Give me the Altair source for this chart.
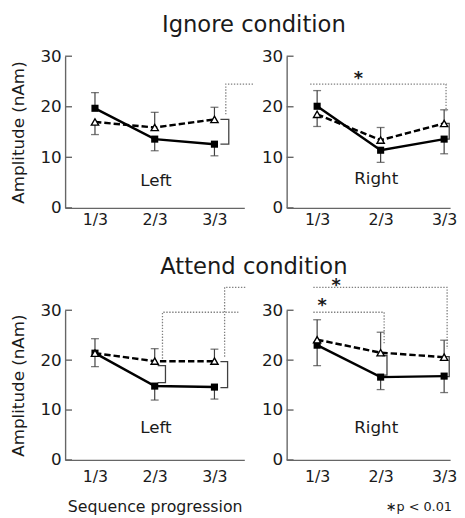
import json
import altair as alt
import pandas as pd

FONT = "DejaVu Sans"
INK = "#1a1a1a"
AXIS = "#666666"
ERR = "#404040"
DOT = "#808080"

x_ticks = [1, 2, 3]
x_labels = ["1/3", "2/3", "3/3"]
y_ticks = [0, 10, 20, 30]

# Ignore condition, Left
il_sq = [19.7, 13.6, 12.6]
il_sq_err = [22.8, 11.3, 10.3]
il_tri = [17.0, 15.9, 17.5]
il_tri_err = [14.5, 18.9, 19.9]
# Ignore condition, Right
ir_sq = [20.1, 11.4, 13.6]
ir_sq_err = [23.2, 9.0, 10.7]
ir_tri = [18.5, 13.4, 16.7]
ir_tri_err = [16.1, 15.9, 19.4]
# Attend condition, Left
al_sq = [21.4, 14.8, 14.6]
al_sq_err = [18.7, 12.0, 12.2]
al_tri = [21.4, 19.8, 19.8]
al_tri_err = [24.3, 22.3, 22.2]
# Attend condition, Right
ar_sq = [23.0, 16.6, 16.8]
ar_sq_err = [18.9, 14.1, 13.5]
ar_tri = [24.1, 21.5, 20.6]
ar_tri_err = [28.1, 25.6, 24.0]

# brackets: (x_from, x_at, y_top, y_bottom)
il_brackets = [(3.10, 3.24, 17.5, 12.6)]
ir_brackets = [(3.03, 3.08, 16.7, 13.6)]
al_brackets = [(2.05, 2.18, 18.9, 15.5), (3.10, 3.22, 19.7, 14.5)]
ar_brackets = [(2.02, 2.10, 20.9, 17.0), (3.03, 3.08, 20.7, 16.7)]

# dotted significance paths: (x values, y values)
il_dotted = [([3.19, 3.19, 3.665], [18.5, 24.5, 24.5])]
ir_dotted = [([0.89, 3.03, 3.03], [24.5, 24.5, 19.1])]
al_dotted = [([2.13, 2.13, 3.40], [20.3, 29.6, 29.6]),
             ([3.17, 3.17, 3.52], [20.7, 34.6, 34.6])]
ar_dotted = [([0.94, 2.055, 2.055], [29.6, 29.6, 23.1]),
             ([0.94, 3.047, 3.047], [34.6, 34.6, 22.3])]

ir_stars = ([1.65], [26.3])
ar_stars = ([1.08, 1.30], [31.6, 35.6])
no_stars = ([], [])

# free-standing texts: (text, x, y) in their panel's data space
ignore_heading = ("Ignore condition", 3.66, 34.7)
attend_heading = ("Attend condition", 3.66, 37.3)
p_note = ("∗p < 0.01", 2.08, -10.2)

label_expr = "%s[datum.value - 1]" % json.dumps(x_labels)


def make_panel(sq, sq_err, tri, tri_err, brackets, dotted, stars, label, label_x, label_y,
               xdomain, width, height, xlabel_pad, ytitle=None, xtitle=None, heading=None,
               note=None):
    xscale = alt.Scale(domain=xdomain, nice=False, zero=False)
    yscale = alt.Scale(domain=[0, 30], nice=False, zero=False)
    xkw = dict(values=x_ticks, labelExpr=label_expr, ticks=False, tickSize=0, grid=False,
               labelPadding=xlabel_pad, labelFontSize=16)
    if xtitle:
        xkw.update(title=xtitle, titleFontSize=16, titlePadding=14)
    else:
        xkw["title"] = None
    xaxis = alt.Axis(**xkw)
    ykw = dict(values=y_ticks, ticks=False, tickSize=0, grid=False, labelPadding=4,
               labelFontSize=17)
    if ytitle:
        ykw.update(title=ytitle, titleFontSize=17, titlePadding=13)
    else:
        ykw["title"] = None
    yaxis = alt.Axis(**ykw)

    def X(f):
        return alt.X(f"{f}:Q", scale=xscale, axis=xaxis)

    def Y(f):
        return alt.Y(f"{f}:Q", scale=yscale, axis=yaxis)

    sq_df = pd.DataFrame({"x": x_ticks, "y": sq, "err": sq_err})
    tri_df = pd.DataFrame({"x": x_ticks, "y": tri, "err": tri_err})
    tick_df = pd.DataFrame({"y": y_ticks})

    br_rows = []
    for i, (xf, xa, yt, yb) in enumerate(brackets):
        for k, (px, py) in enumerate([(xf, yt), (xa, yt), (xa, yb), (xf, yb)]):
            br_rows.append({"x": px, "y": py, "pid": i, "o": k})
    br_df = pd.DataFrame(br_rows)

    dt_rows = []
    for i, (xs, ys) in enumerate(dotted):
        for k, (px, py) in enumerate(zip(xs, ys)):
            dt_rows.append({"x": px, "y": py, "pid": i, "o": k})
    dt_df = pd.DataFrame(dt_rows)

    lab_df = pd.DataFrame({"x": [label_x], "y": [label_y], "t": [label]})

    layers = [
        alt.Chart(tick_df).mark_rule(color=AXIS, strokeWidth=1.4).encode(
            x=alt.value(0), x2=alt.value(7), y=Y("y")),
        alt.Chart(sq_df).mark_rule(color=ERR, strokeWidth=1.2).encode(
            x=X("x"), y=Y("y"), y2="err"),
        alt.Chart(tri_df).mark_rule(color=ERR, strokeWidth=1.2).encode(
            x=X("x"), y=Y("y"), y2="err"),
        alt.Chart(sq_df).mark_tick(orient="horizontal", size=8, thickness=1.3, color=ERR).encode(
            x=X("x"), y=Y("err")),
        alt.Chart(tri_df).mark_tick(orient="horizontal", size=8, thickness=1.3, color=ERR).encode(
            x=X("x"), y=Y("err")),
        alt.Chart(dt_df).mark_line(color=DOT, strokeWidth=1.3, strokeDash=[1.4, 1.6]).encode(
            x=X("x"), y=Y("y"), detail="pid:N", order="o:Q"),
        alt.Chart(br_df).mark_line(color=ERR, strokeWidth=1.3).encode(
            x=X("x"), y=Y("y"), detail="pid:N", order="o:Q"),
        alt.Chart(sq_df).mark_line(color="black", strokeWidth=2.5).encode(x=X("x"), y=Y("y")),
        alt.Chart(tri_df).mark_line(color="black", strokeWidth=2.5, strokeDash=[6.5, 3]).encode(
            x=X("x"), y=Y("y")),
        alt.Chart(sq_df).mark_point(shape="square", filled=True, size=52, color="black",
                                    opacity=1).encode(x=X("x"), y=Y("y")),
        alt.Chart(tri_df).mark_point(shape="triangle-up", filled=True, fill="white",
                                     stroke="black", strokeWidth=1.4, size=55,
                                     opacity=1).encode(x=X("x"), y=Y("y")),
        alt.Chart(lab_df).mark_text(font=FONT, fontSize=17, color=INK, baseline="middle").encode(
            x=X("x"), y=Y("y"), text="t:N"),
    ]
    if stars[0]:
        st_df = pd.DataFrame({"x": stars[0], "y": stars[1], "t": ["*"] * len(stars[0])})
        layers.append(
            alt.Chart(st_df).mark_text(font=FONT, fontSize=18, fontWeight="bold", color=INK,
                                       baseline="middle", dy=4).encode(
                x=X("x"), y=Y("y"), text="t:N"))
    if heading:
        hd_df = pd.DataFrame({"x": [heading[1]], "y": [heading[2]], "t": [heading[0]]})
        layers.append(
            alt.Chart(hd_df).mark_text(font=FONT, fontSize=23, color=INK,
                                       baseline="alphabetic", align="center").encode(
                x=X("x"), y=Y("y"), text="t:N"))
    if note:
        nt_df = pd.DataFrame({"x": [note[1]], "y": [note[2]], "t": [note[0]]})
        layers.append(
            alt.Chart(nt_df).mark_text(font=FONT, fontSize=13, color=INK,
                                       baseline="alphabetic", align="left").encode(
                x=X("x"), y=Y("y"), text="t:N"))
    return alt.layer(*layers).properties(width=width, height=height)


LEFT_DOM = [0.5, 3.5]
RIGHT_DOM = [0.52, 3.094]

tl = make_panel(il_sq, il_sq_err, il_tri, il_tri_err, il_brackets, il_dotted, no_stars,
                "Left", 2.02, 5.35, LEFT_DOM, 182, 154, 4, ytitle="Amplitude (nAm)",
                heading=ignore_heading)
tr = make_panel(ir_sq, ir_sq_err, ir_tri, ir_tri_err, ir_brackets, ir_dotted, ir_stars,
                "Right", 1.93, 5.6, RIGHT_DOM, 166, 154, 4)
bl = make_panel(al_sq, al_sq_err, al_tri, al_tri_err, al_brackets, al_dotted, no_stars,
                "Left", 2.02, 6.45, LEFT_DOM, 182, 152, 9, ytitle="Amplitude (nAm)",
                xtitle="Sequence progression", heading=attend_heading)
br = make_panel(ar_sq, ar_sq_err, ar_tri, ar_tri_err, ar_brackets, ar_dotted, ar_stars,
                "Right", 1.93, 6.35, RIGHT_DOM, 166, 152, 9, note=p_note)

chart = alt.concat(tl, tr, bl, br, columns=2, spacing={"row": 104, "column": 43},
                   bounds="flush").properties(
    padding={"left": 1, "top": 2, "right": 0, "bottom": 0}
).configure_view(stroke=None).configure_axis(
    domainColor=AXIS, domainWidth=1.4, labelColor=INK, titleColor=INK,
    labelFont=FONT, titleFont=FONT, titleFontWeight="normal"
)

chart.save("out.html", embed_options={"renderer": "svg", "actions": False})
